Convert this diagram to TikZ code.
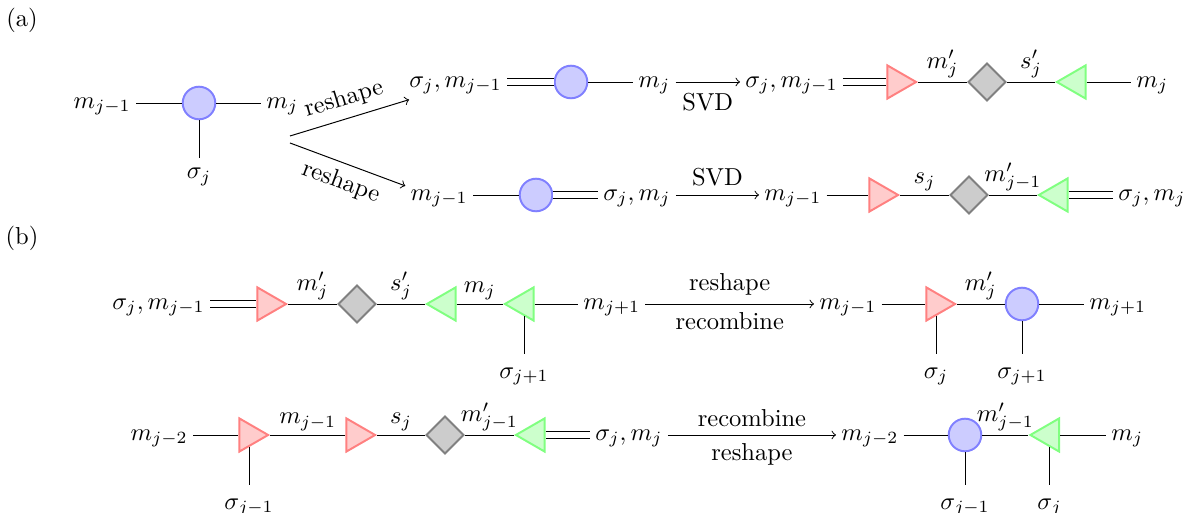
\documentclass[tikz,border=0pt]{standalone}
\usetikzlibrary{shapes.geometric}
\begin{document}
\begin{tikzpicture}[x=0.408pt,y=-0.408pt,
  lab/.style={inner sep=2pt},
  circ/.style={circle, draw=blue!50, fill=blue!20, line width=0.8pt, minimum size=13.3pt, inner sep=0pt},
  rtri/.style={regular polygon, regular polygon sides=3, rotate=-90, draw=red!50, fill=red!20, line width=0.8pt, minimum size=15.6pt, inner sep=0pt},
  ltri/.style={regular polygon, regular polygon sides=3, rotate=90, draw=green!50, fill=green!20, line width=0.8pt, minimum size=15.6pt, inner sep=0pt},
  diam/.style={diamond, draw=gray, fill=gray!40, line width=0.8pt, minimum size=15.5pt, inner sep=0pt},
  dbl/.style={double, double distance=2.3pt},
  elab/.style={midway, above, inner sep=1.5pt},
  sig/.style={anchor=north, inner sep=2pt, yshift=-3.3pt},
  siga/.style={anchor=north, inner sep=2pt, yshift=-2pt}
]
\useasboundingbox (0,0) rectangle (1186,513);

\node (pa) at (22,20) {(a)};
\node (pb) at (22,238) {(b)};

% ---------- (a) tee ----------
\node[circ] (c0) at (199,103) {};
\coordinate (c0d) at (199,158);
\node[lab, anchor=mid east] (l0a) at (136,103) {$m_{j-1}$};
\node[lab, anchor=mid west] (l0b) at (261,103) {$m_j$};
\node[siga] (l0c) at (c0d) {$\sigma_j$};
\draw (l0a.mid east) -- (c0);
\draw (c0) -- (l0b.mid west);
\draw (c0) -- (c0d);
\coordinate (s1) at (290,136);
\coordinate (s2) at (290,143);

% ---------- (a) row 1 ----------
\node[lab, anchor=mid east] (A1a) at (507,82) {$\sigma_j, m_{j-1}$};
\node[circ] (c1) at (571,82) {};
\node[lab, anchor=mid west] (A1b) at (633,82) {$m_j$};
\draw[dbl] (A1a.mid east) -- (c1);
\draw (c1) -- (A1b.mid west);
\node[lab, anchor=mid west] (A1c) at (740,82) {$\sigma_j, m_{j-1}$};
\draw[->] (A1b.mid east) -- (A1c.mid west) node[midway, below, yshift=-1pt] (svd1) {SVD};
\node[rtri] (t1) at (897,82) {};
\node[diam] (d1) at (987,82) {};
\node[ltri] (g1) at (1076,82) {};
\node[lab, anchor=mid west] (A1d) at (1131,82) {$m_j$};
\draw[dbl] (A1c.mid east) -- (t1);
\draw (t1) -- (d1) node[elab] (e1) {$m'_j$};
\draw (d1) -- (g1) node[elab] (e2) {$s'_j$};
\draw (g1) -- (A1d.mid west);

% ---------- (a) row 2 ----------
\node[lab, anchor=mid east] (A2a) at (473,195) {$m_{j-1}$};
\node[circ] (c2) at (536,195) {};
\node[lab, anchor=mid west] (A2b) at (598,195) {$\sigma_j, m_j$};
\draw (A2a.mid east) -- (c2);
\draw[dbl] (c2) -- (A2b.mid west);
\node[lab, anchor=mid west] (A2c) at (759,195) {$m_{j-1}$};
\draw[->] (A2b.mid east) -- (A2c.mid west) node[midway, above] (svd2) {SVD};
\node[rtri] (t2) at (879,195) {};
\node[diam] (d2) at (969,195) {};
\node[ltri] (g2) at (1058,195) {};
\node[lab, anchor=mid west] (A2d) at (1113,195) {$\sigma_j, m_j$};
\draw (A2c.mid east) -- (t2);
\draw (t2) -- (d2) node[elab] (e3) {$s_j$};
\draw (d2) -- (g2) node[elab] (e4) {$m'_{j-1}$};
\draw[dbl] (g2) -- (A2d.mid west);

% reshape arrows
\draw[->] (s1) -- (A1a) node[midway, above, sloped] (r1) {reshape};
\draw[->] (s2) -- (A2a) node[midway, below, sloped] (r2) {reshape};

% ---------- (b) row 1 ----------
\node[lab, anchor=mid east] (B1a) at (210,304) {$\sigma_j, m_{j-1}$};
\node[rtri] (t3) at (267,304) {};
\node[diam] (d3) at (357,304) {};
\node[ltri] (g3) at (446,304) {};
\node[ltri] (g4) at (524,304) {};
\node[lab, anchor=mid west] (B1b) at (578,304) {$m_{j+1}$};
\coordinate (g4d) at (524,354);
\node[sig] (B1c) at (g4d) {$\sigma_{j+1}$};
\draw[dbl] (B1a.mid east) -- (t3);
\draw (t3) -- (d3) node[elab] (e5) {$m'_j$};
\draw (d3) -- (g3) node[elab] (e6) {$s'_j$};
\draw (g3) -- (g4) node[elab] (e7) {$m_j$};
\draw (g4) -- (B1b.mid west);
\draw (g4) -- (g4d);

\node[lab, anchor=mid west] (B1d) at (814,304) {$m_{j-1}$};
\draw[->] (B1b.mid east) -- (B1d.mid west)
  node[midway, above] (rs1) {reshape}
  node[midway, below] (rc1) {recombine};
\node[rtri] (t4) at (936,304) {};
\node[circ] (c3) at (1022,304) {};
\node[lab, anchor=mid west] (B1e) at (1084,304) {$m_{j+1}$};
\coordinate (t4d) at (936,354);
\coordinate (c3d) at (1022,354);
\node[sig] (B1f) at (t4d) {$\sigma_j$};
\node[sig] (B1g) at (c3d) {$\sigma_{j+1}$};
\draw (B1d.mid east) -- (t4);
\draw (t4) -- (c3) node[elab] (e8) {$m'_j$};
\draw (c3) -- (B1e.mid west);
\draw (t4) -- (t4d);
\draw (c3) -- (c3d);

% ---------- (b) row 2 ----------
\node[lab, anchor=mid east] (B2a) at (193,435) {$m_{j-2}$};
\node[rtri] (t5) at (249,435) {};
\node[rtri] (t6) at (356,435) {};
\node[diam] (d4) at (445,435) {};
\node[ltri] (g5) at (535,435) {};
\node[lab, anchor=mid west] (B2b) at (590,435) {$\sigma_j, m_j$};
\coordinate (t5d) at (249,485);
\node[sig] (B2c) at (t5d) {$\sigma_{j-1}$};
\draw (B2a.mid east) -- (t5);
\draw (t5) -- (t6) node[elab] (e9) {$m_{j-1}$};
\draw (t6) -- (d4) node[elab] (e10) {$s_j$};
\draw (d4) -- (g5) node[elab] (e11) {$m'_{j-1}$};
\draw[dbl] (g5) -- (B2b.mid west);
\draw (t5) -- (t5d);

\node[lab, anchor=mid west] (B2d) at (836,435) {$m_{j-2}$};
\draw[->] (B2b.mid east) -- (B2d.mid west)
  node[midway, above] (rc2) {recombine}
  node[midway, below] (rs2) {reshape};
\node[circ] (c4) at (965,435) {};
\node[ltri] (g6) at (1049.5,435) {};
\node[lab, anchor=mid west] (B2e) at (1106,435) {$m_j$};
\coordinate (c4d) at (965,485);
\coordinate (g6d) at (1049.5,485);
\node[sig] (B2f) at (c4d) {$\sigma_{j-1}$};
\node[sig] (B2g) at (g6d) {$\sigma_j$};
\draw (B2d.mid east) -- (c4);
\draw (c4) -- (g6) node[elab] (e12) {$m'_{j-1}$};
\draw (g6) -- (B2e.mid west);
\draw (c4) -- (c4d);
\draw (g6) -- (g6d);
\end{tikzpicture}
\end{document}
